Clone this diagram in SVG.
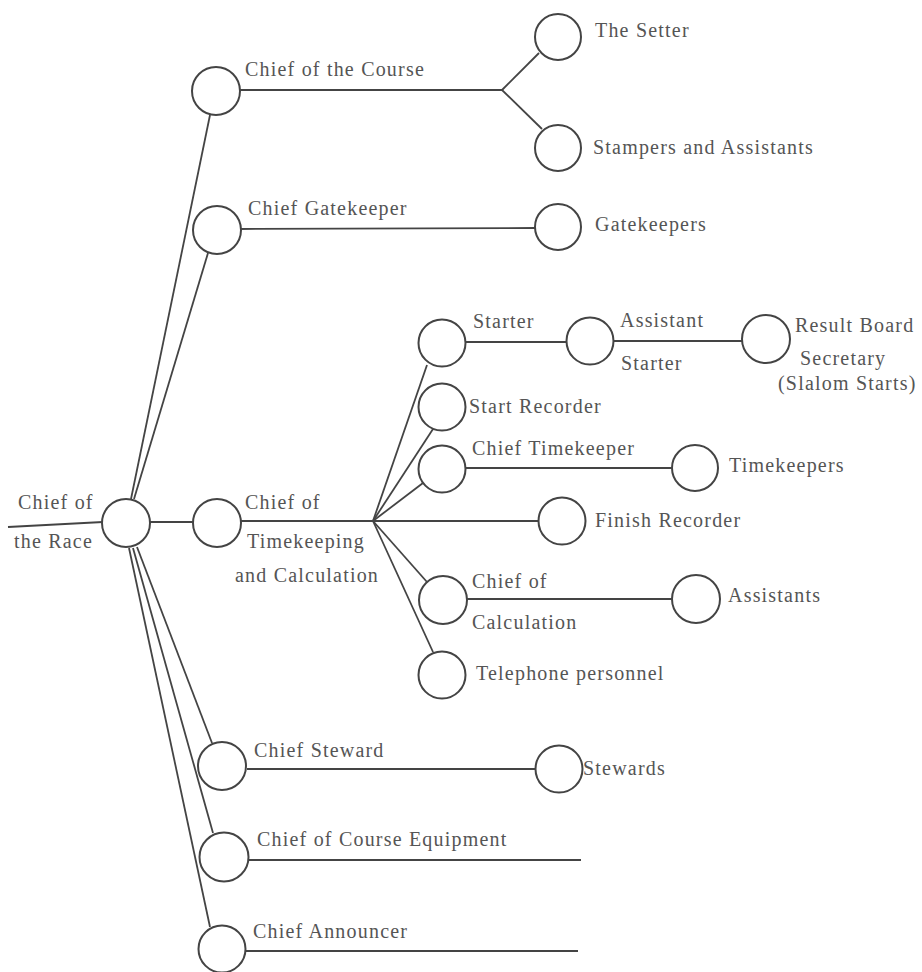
<svg xmlns="http://www.w3.org/2000/svg" width="922" height="972" viewBox="0 0 922 972">
<style>
.c{fill:#fff;stroke:#444;stroke-width:2}
.l{stroke:#444;stroke-width:1.8;fill:none}
.t text{font-size:20px;fill:#555;letter-spacing:1.2px}
</style>
<rect width="922" height="972" fill="#fff"/>
<g id="connectors">
<line class="l" x1="8" y1="527" x2="103" y2="522"/>
<line class="l" x1="131" y1="499" x2="210" y2="115"/>
<line class="l" x1="134" y1="499" x2="208" y2="253"/>
<line class="l" x1="240" y1="90" x2="502" y2="90"/>
<line class="l" x1="502" y1="90" x2="539" y2="53"/>
<line class="l" x1="502" y1="90" x2="542" y2="129"/>
<line class="l" x1="240" y1="229" x2="535" y2="228"/>
<line class="l" x1="150" y1="522" x2="193" y2="522"/>
<line class="l" x1="241" y1="521" x2="373" y2="521"/>
<line class="l" x1="373" y1="521" x2="427" y2="365"/>
<line class="l" x1="373" y1="521" x2="433" y2="429"/>
<line class="l" x1="373" y1="521" x2="423" y2="483"/>
<line class="l" x1="373" y1="521" x2="538" y2="521"/>
<line class="l" x1="373" y1="521" x2="427" y2="582"/>
<line class="l" x1="373" y1="521" x2="433" y2="652"/>
<line class="l" x1="465" y1="342" x2="567" y2="342"/>
<line class="l" x1="613" y1="341" x2="743" y2="341"/>
<line class="l" x1="465" y1="468" x2="672" y2="468"/>
<line class="l" x1="467" y1="599" x2="672" y2="599"/>
<line class="l" x1="137" y1="547" x2="212" y2="743"/>
<line class="l" x1="133" y1="548" x2="213" y2="833"/>
<line class="l" x1="129" y1="548" x2="210" y2="927"/>
<line class="l" x1="247" y1="769" x2="536" y2="769"/>
<line class="l" x1="249" y1="860" x2="581" y2="860"/>
<line class="l" x1="245" y1="951" x2="578" y2="951"/>
</g>
<g class="t" font-family="'Liberation Serif', 'DejaVu Serif', 'Times New Roman', serif">
<g id="race"><circle class="c" cx="126" cy="523" r="24"/><text x="18" y="509">Chief of</text><text x="14" y="548">the Race</text></g>
<g id="course"><circle class="c" cx="216" cy="91" r="24"/><text x="245" y="76">Chief of the Course</text></g>
<g id="setter"><circle class="c" cx="558" cy="37" r="23"/><text x="595" y="37">The Setter</text></g>
<g id="stampers"><circle class="c" cx="558" cy="148" r="23"/><text x="593" y="154">Stampers and Assistants</text></g>
<g id="gatekeeper"><circle class="c" cx="217" cy="230" r="24"/><text x="248" y="215">Chief Gatekeeper</text></g>
<g id="gatekeepers"><circle class="c" cx="558" cy="227" r="23"/><text x="595" y="231">Gatekeepers</text></g>
<g id="timekeeping"><circle class="c" cx="217" cy="523" r="24"/><text x="245" y="509">Chief of</text><text x="247" y="548">Timekeeping</text><text x="235" y="582">and Calculation</text></g>
<g id="starter"><circle class="c" cx="442" cy="343" r="23.5"/><text x="473" y="328">Starter</text></g>
<g id="assistant-starter"><circle class="c" cx="590" cy="341" r="23.5"/><text x="620" y="327">Assistant</text><text x="621" y="370">Starter</text></g>
<g id="result-board"><circle class="c" cx="766" cy="339" r="24"/><text x="795" y="332">Result Board</text><text x="800" y="365">Secretary</text><text x="778" y="390">(Slalom Starts)</text></g>
<g id="start-recorder"><circle class="c" cx="442" cy="407" r="23.5"/><text x="469" y="413">Start Recorder</text></g>
<g id="chief-timekeeper"><circle class="c" cx="442" cy="469" r="23.5"/><text x="472" y="455">Chief Timekeeper</text></g>
<g id="timekeepers"><circle class="c" cx="695" cy="468" r="23"/><text x="729" y="472">Timekeepers</text></g>
<g id="finish-recorder"><circle class="c" cx="562" cy="521" r="23.5"/><text x="595" y="527">Finish Recorder</text></g>
<g id="chief-calculation"><circle class="c" cx="443" cy="600" r="24"/><text x="472" y="588">Chief of</text><text x="472" y="629">Calculation</text></g>
<g id="assistants"><circle class="c" cx="696" cy="599" r="24"/><text x="728" y="602">Assistants</text></g>
<g id="telephone"><circle class="c" cx="442" cy="675" r="23.5"/><text x="476" y="680">Telephone personnel</text></g>
<g id="steward"><circle class="c" cx="222" cy="766" r="24"/><text x="254" y="757">Chief Steward</text></g>
<g id="stewards"><circle class="c" cx="559" cy="769" r="23.5"/><text x="583" y="775">Stewards</text></g>
<g id="equipment"><circle class="c" cx="224" cy="857" r="24.5"/><text x="257" y="846">Chief of Course Equipment</text></g>
<g id="announcer"><circle class="c" cx="222" cy="949" r="23.5"/><text x="253" y="938">Chief Announcer</text></g>
</g>
</svg>
